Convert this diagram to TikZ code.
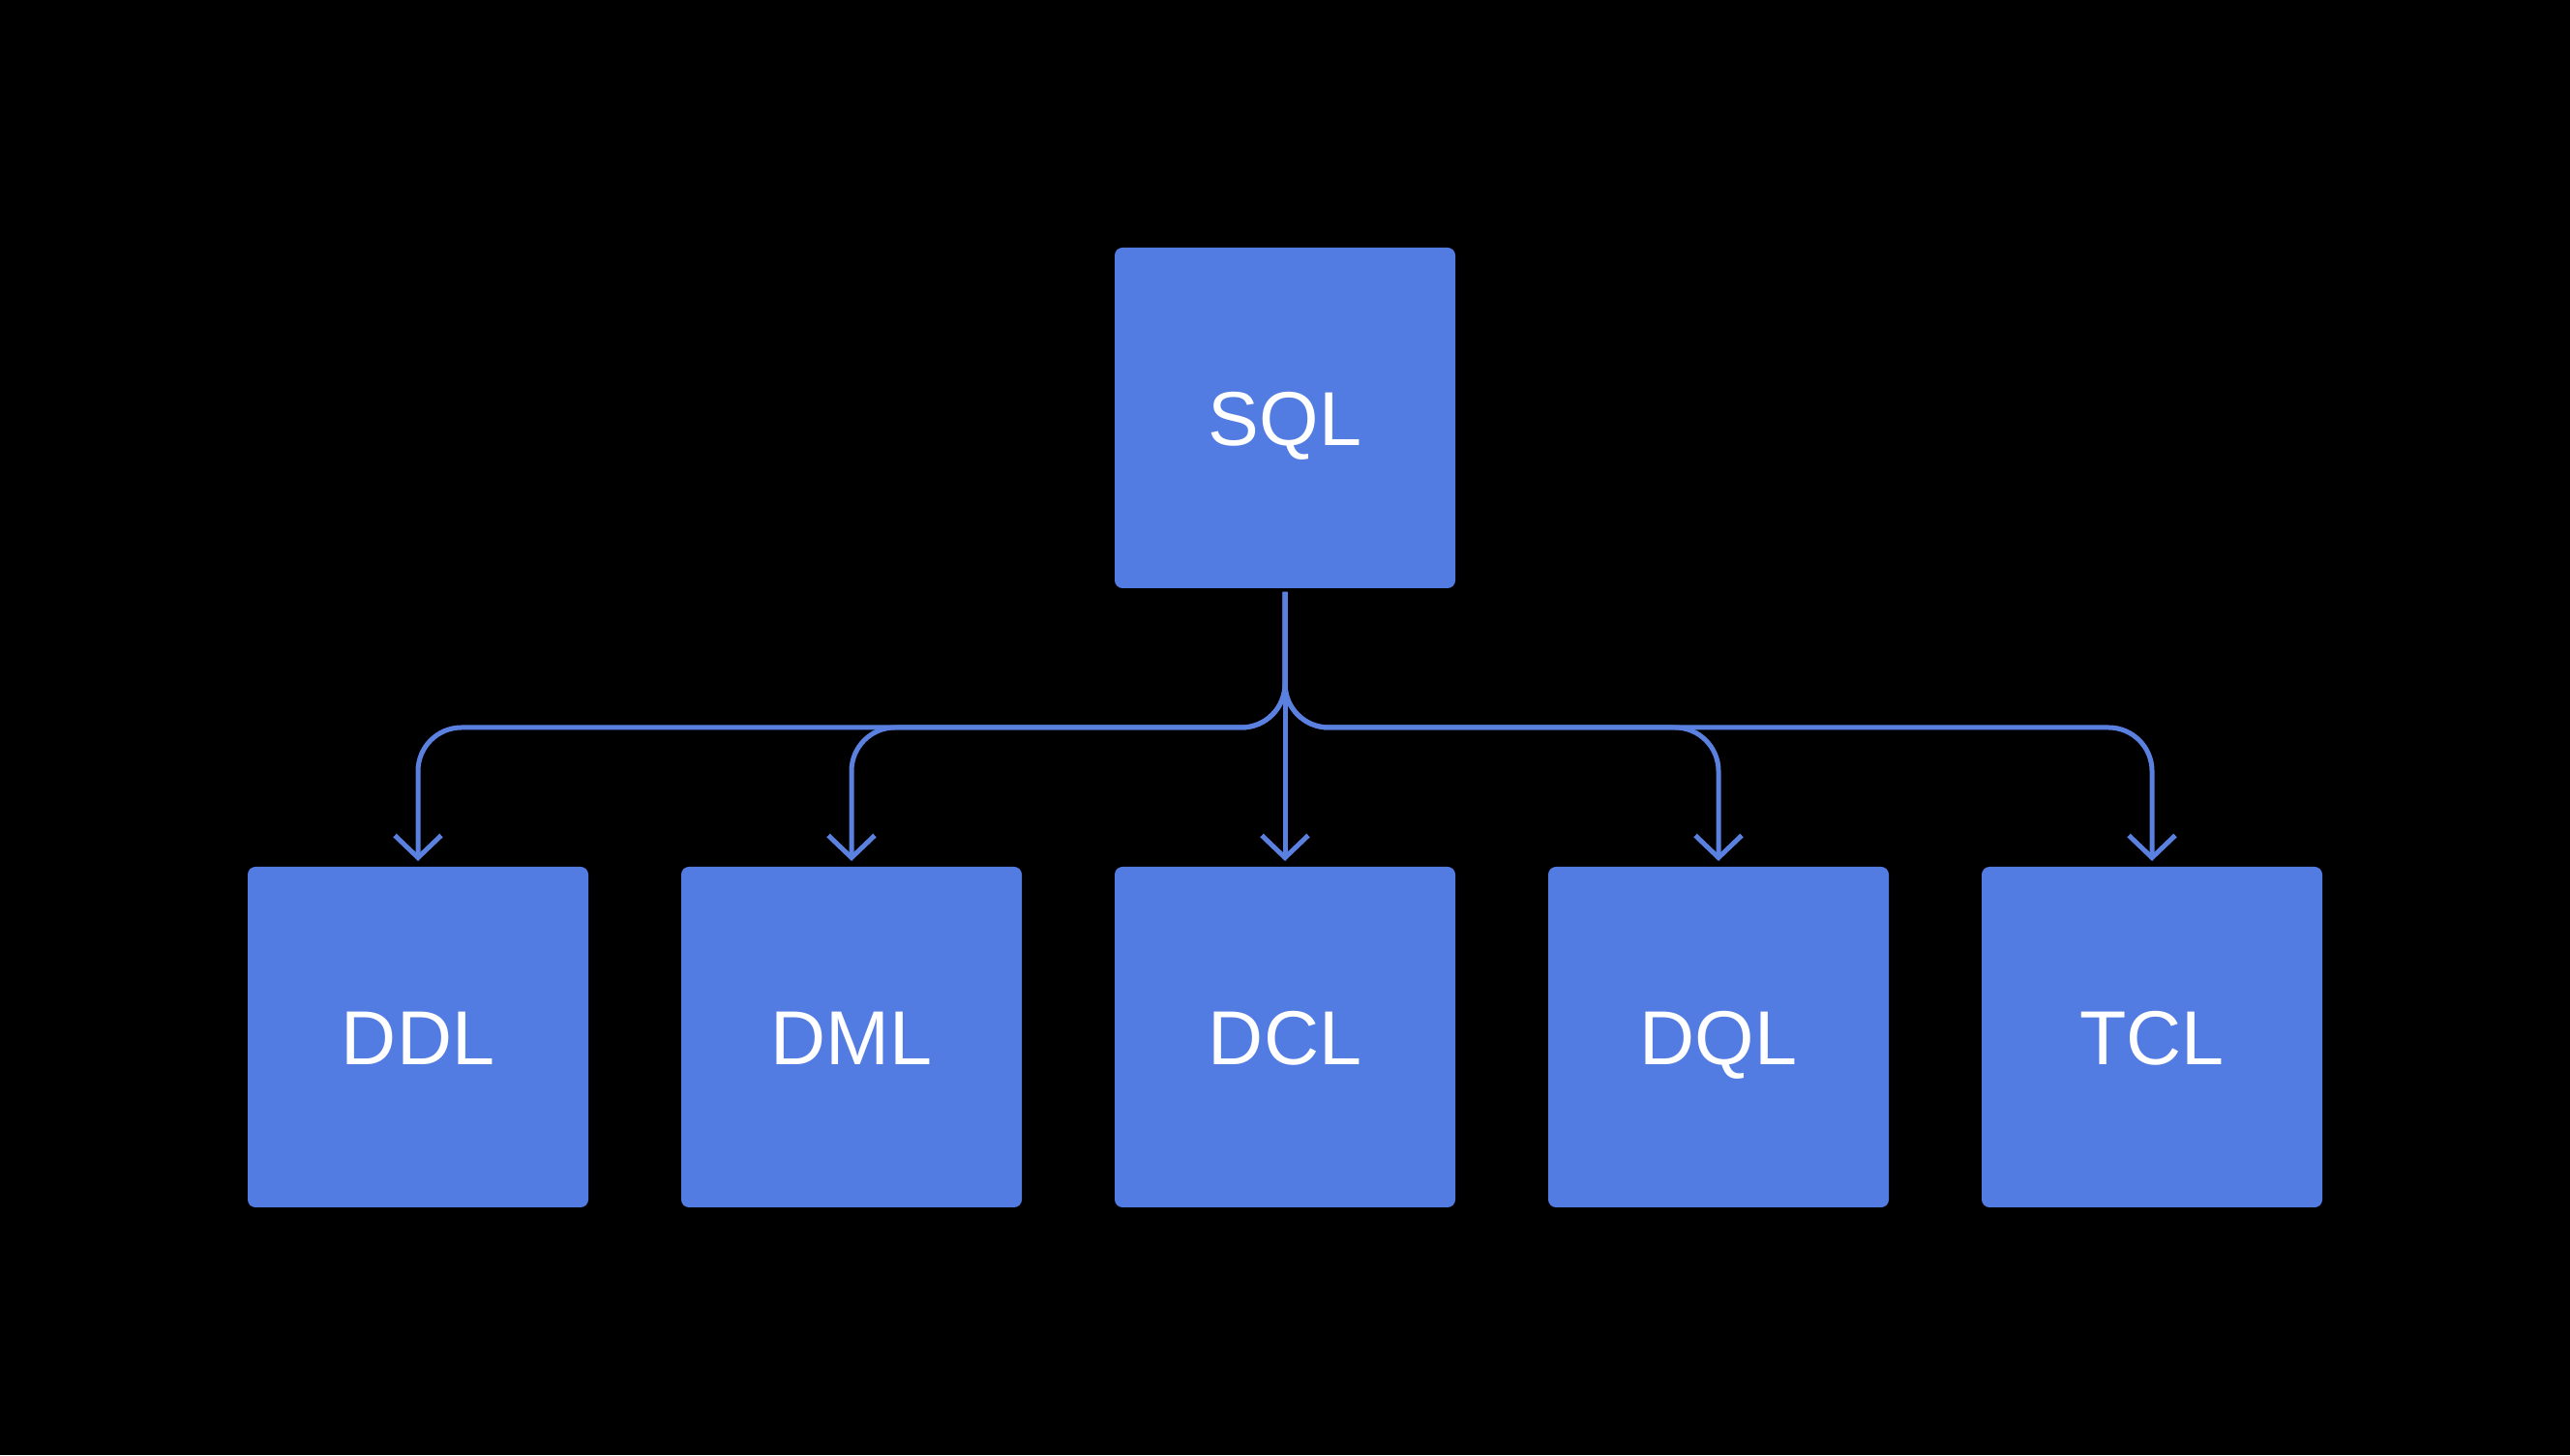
\documentclass[tikz,border=0pt]{standalone}
\usepackage{fontspec}
\setmainfont{Liberation Sans}
\usetikzlibrary{positioning,arrows.meta}
\definecolor{boxblue}{RGB}{83,124,226}
\definecolor{lineblue}{RGB}{90,128,224}

\begin{document}
\begin{tikzpicture}[
    box/.style={fill=boxblue, rounded corners=0.08cm, minimum width=3.52cm, minimum height=3.52cm,
        text=white, font=\fontsize{22.5}{26}\selectfont, inner sep=0pt, outer sep=0pt,
        text height=16.1pt, text depth=0pt},
    link/.style={draw=lineblue, line width=0.05cm, rounded corners=0.45cm,
        shorten <=0.04cm, shorten >=0.06cm,
        -{Straight Barb[length=0.23cm, width=0.48cm]}}
]
    \fill[black] (0,0) rectangle (26.56,15.04);
    \useasboundingbox (0,0) rectangle (26.56,15.04);

    \node (ddl) [box] at (4.32,4.32) {DDL};
    \node (dml) [box, right=0.96cm of ddl] {DML};
    \node (dcl) [box, right=0.96cm of dml] {DCL};
    \node (dql) [box, right=0.96cm of dcl] {DQL};
    \node (tcl) [box, right=0.96cm of dql] {TCL};
    \node (sql) [box, above=2.88cm of dcl] {SQL};

    \coordinate[below=1.44cm of sql] (split);

    \draw[link] (sql.south) -- (split) -| (ddl.north);
    \draw[link] (sql.south) -- (split) -| (dml.north);
    \draw[link] (sql.south) -- (dcl.north);
    \draw[link] (sql.south) -- (split) -| (dql.north);
    \draw[link] (sql.south) -- (split) -| (tcl.north);
\end{tikzpicture}
\end{document}
